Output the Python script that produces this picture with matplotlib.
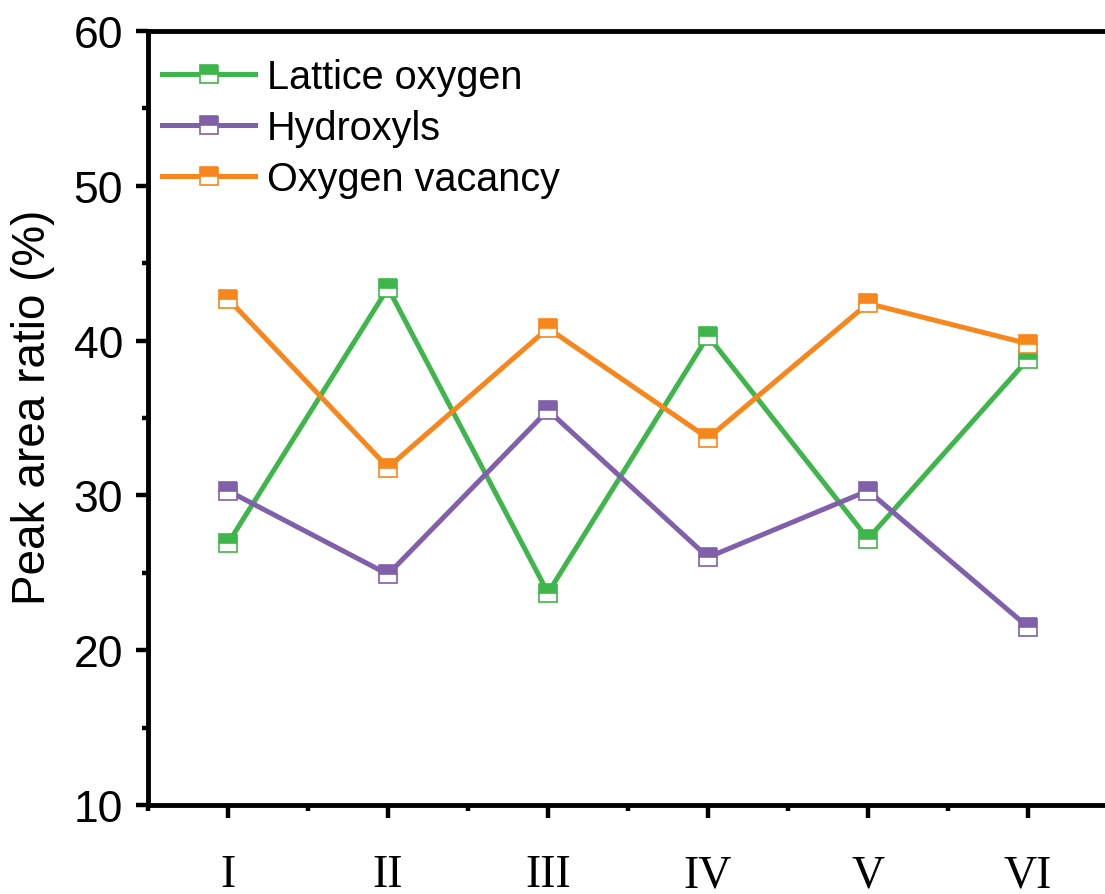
import matplotlib
matplotlib.use("Agg")
import matplotlib.pyplot as plt
from matplotlib.ticker import MultipleLocator

# sample labels and peak area ratios (%)
samples = ["I", "II", "III", "IV", "V", "VI"]
lattice_oxygen = [26.9, 43.4, 23.7, 40.3, 27.2, 38.8]
hydroxyls = [30.3, 24.9, 35.5, 26.0, 30.3, 21.5]
oxygen_vacancy = [42.7, 31.8, 40.8, 33.7, 42.4, 39.8]

series = [
    ("Lattice oxygen", lattice_oxygen, "#3fb64b"),
    ("Hydroxyls", hydroxyls, "#8060ab"),
    ("Oxygen vacancy", oxygen_vacancy, "#f7861c"),
]

plt.rcParams["font.family"] = ["Liberation Sans", "DejaVu Sans"]

fig = plt.figure(figsize=(11.05, 8.95), dpi=100)
ax = fig.add_axes([148 / 1105, 89 / 895, 960 / 1105, 774 / 895])

x = list(range(1, len(samples) + 1))
for name, vals, col in series:
    ax.plot(x, vals, color=col, lw=3.6, marker="s", ms=12.5,
            fillstyle="top", markerfacecolor=col, markerfacecoloralt="white",
            markeredgecolor=col, markeredgewidth=1.2, label=name)

ax.set_xlim(0.5, 6.5)
ax.set_ylim(10, 60)
ax.set_xticks(x)
ax.set_xticklabels(samples, family=["Liberation Serif", "DejaVu Serif"], fontsize=33)
ax.xaxis.set_minor_locator(MultipleLocator(1, offset=0.5))
ax.yaxis.set_major_locator(MultipleLocator(10))
ax.yaxis.set_minor_locator(MultipleLocator(5))

for s in ax.spines.values():
    s.set_linewidth(3.5)
ax.tick_params(axis="both", which="major", direction="out", length=9, width=3.2)
ax.tick_params(axis="both", which="minor", direction="out", length=4.5, width=3.2)
ax.tick_params(axis="y", labelsize=32, pad=9)
ax.tick_params(axis="x", pad=26)

ax.set_ylabel("Peak area ratio (%)", fontsize=33)
ax.yaxis.set_label_coords(-0.097, 0.515)

ax.legend(loc="upper left", bbox_to_anchor=(14 / 960, 1 - 27 / 774), frameon=False,
          fontsize=28.5, handlelength=2.35, handletextpad=0.3,
          labelspacing=0.33, borderpad=0.0, borderaxespad=0.0, numpoints=1)

fig.savefig("out.png", dpi=100)
